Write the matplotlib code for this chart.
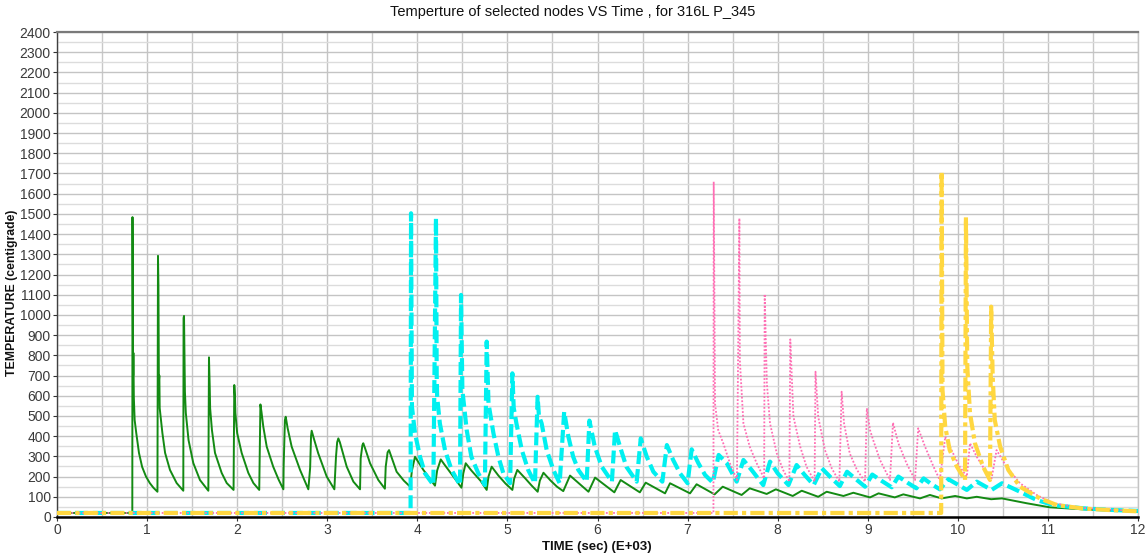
import matplotlib
matplotlib.use("Agg")
import matplotlib.pyplot as plt
from matplotlib.ticker import MultipleLocator

plt.rcParams['font.family'] = ['Liberation Sans', 'DejaVu Sans']

# Time in units of 1000 s, temperature in degrees C
green_t = [0.0, 0.836, 0.838, 0.845, 0.848, 0.853, 0.862, 0.88, 0.91, 0.945, 0.988, 1.03, 1.07, 1.115,
           1.121, 1.126, 1.131, 1.136, 1.14, 1.17, 1.2, 1.254, 1.328, 1.402,
           1.405, 1.41, 1.416, 1.42, 1.43, 1.46, 1.513, 1.587, 1.68,
           1.687, 1.695, 1.70, 1.72, 1.754, 1.828, 1.884, 1.96,
           1.968, 1.975, 1.98, 2.0, 2.05, 2.124, 2.18, 2.245,
           2.254, 2.258, 2.27, 2.29, 2.328, 2.4, 2.46, 2.513,
           2.516, 2.53, 2.539, 2.56, 2.605, 2.698, 2.79,
           2.81, 2.82, 2.827, 2.85, 2.9, 2.994, 3.079,
           3.097, 3.11, 3.123, 3.14, 3.216, 3.29, 3.364,
           3.371, 3.39, 3.4, 3.42, 3.475, 3.567, 3.64,
           3.649, 3.67, 3.686, 3.71, 3.77, 3.85, 3.92,
           3.94, 3.974, 4.0, 4.067, 4.196,
           4.22, 4.26, 4.3, 4.4, 4.49,
           4.51, 4.537, 4.6, 4.7, 4.77,
           4.79, 4.825, 4.9, 4.98, 5.055,
           5.075, 5.11, 5.2, 5.27, 5.336,
           5.36, 5.4, 5.48, 5.55, 5.62,
           5.695, 5.9, 5.973, 6.187, 6.257, 6.47, 6.535, 6.75, 6.805, 7.027,
           7.1, 7.3, 7.39, 7.6, 7.69, 7.878, 7.98, 8.167, 8.267, 8.45,
           8.544, 8.73, 8.84, 9.025, 9.12, 9.3, 9.395, 9.58, 9.69, 9.82,
           9.97, 10.1, 10.21, 10.37, 10.49, 10.765, 11.02, 11.39, 11.7, 12.0]
green_T = [20, 20, 1484, 700, 812, 590, 480, 415, 317, 248, 200, 168, 145, 125,
           1292, 1148, 670, 700, 539, 415, 317, 233, 168, 130,
           985, 995, 793, 620, 515, 381, 267, 183, 130,
           790, 650, 538, 430, 317, 218, 168, 134,
           653, 600, 515, 415, 317, 218, 168, 134,
           440, 557, 520, 447, 348, 249, 185, 137,
           250, 480, 496, 440, 348, 233, 137,
           243, 400, 427, 390, 315, 200, 137,
           298, 370, 389, 370, 249, 175, 137,
           290, 355, 365, 340, 266, 183, 140,
           249, 320, 331, 300, 224, 180, 150,
           230, 298, 280, 233, 155,
           230, 285, 260, 200, 145,
           215, 266, 230, 180, 134,
           200, 249, 205, 165, 134,
           190, 233, 190, 155, 125,
           180, 219, 180, 150, 128,
           205, 125, 195, 122, 183, 122, 170, 117, 167, 117,
           162, 112, 150, 109, 142, 114, 137, 104, 130, 100,
           125, 104, 120, 97, 117, 97, 112, 92, 109, 92,
           104, 92, 100, 88, 92, 68, 48, 38, 32, 26]

cyan_t = [0.0, 3.925, 3.93, 3.94, 3.974, 4.03, 4.085, 4.178,
          4.207, 4.215, 4.22, 4.25, 4.307, 4.38, 4.474,
          4.485, 4.5, 4.548, 4.6, 4.677, 4.75,
          4.77, 4.79, 4.845, 4.9, 4.955, 5.03,
          5.055, 5.07, 5.1, 5.16, 5.23, 5.306,
          5.335, 5.35, 5.38, 5.436, 5.51, 5.58,
          5.63, 5.677, 5.73, 5.787, 5.88,
          5.91, 5.97, 6.047, 6.16,
          6.195, 6.25, 6.32, 6.435,
          6.48, 6.547, 6.62, 6.72,
          6.77, 6.84, 6.916, 7.0,
          7.045, 7.12, 7.194, 7.28,
          7.345, 7.435, 7.545,
          7.62, 7.71, 7.84,
          7.915, 8.0, 8.12,
          8.21, 8.3, 8.4,
          8.49, 8.6, 8.69,
          8.77, 8.88, 8.97,
          9.05, 9.15, 9.266,
          9.34, 9.44, 9.54,
          9.62, 9.7, 9.8,
          9.895, 10.0, 10.1,
          10.21, 10.29, 10.375,
          10.49, 10.69, 10.875, 11.06, 11.39, 11.7, 12.0]
cyan_T = [20, 20, 1503, 546, 414, 298, 216, 158,
          1478, 700, 595, 463, 331, 233, 158,
          1099, 628, 430, 298, 216, 158,
          868, 562, 414, 298, 216, 167,
          711, 540, 463, 331, 233, 167,
          595, 500, 463, 331, 233, 167,
          521, 397, 298, 233, 175,
          477, 348, 249, 175,
          430, 348, 249, 175,
          389, 298, 224, 175,
          356, 282, 216, 167,
          335, 266, 208, 170,
          307, 266, 175,
          282, 233, 158,
          274, 216, 158,
          257, 208, 158,
          241, 191, 153,
          224, 183, 150,
          210, 180, 147,
          200, 170, 142,
          191, 165, 137,
          187, 160, 134,
          175, 155, 134,
          167, 125, 84, 59, 43, 35, 30]

pink_t = [0.0, 7.287, 7.29, 7.305, 7.34, 7.4, 7.47, 7.548,
          7.575, 7.58, 7.62, 7.69, 7.767, 7.85,
          7.856, 7.88, 7.915, 7.99, 8.06, 8.13,
          8.14, 8.175, 8.25, 8.32, 8.41,
          8.42, 8.45, 8.525, 8.6, 8.685,
          8.71, 8.737, 8.8, 8.88, 8.97,
          8.99, 9.025, 9.06, 9.136, 9.247,
          9.28, 9.34, 9.43, 9.525,
          9.56, 9.636, 9.73, 9.8,
          9.86, 9.93, 10.02, 10.1,
          10.135, 10.21, 10.3, 10.375,
          10.43, 10.54, 10.69, 10.875, 11.06, 11.39, 11.7, 12.0]
pink_T = [20, 20, 1659, 560, 430, 360, 266, 183,
          1478, 777, 463, 348, 266, 191,
          1103, 662, 463, 315, 233, 175,
          879, 496, 348, 249, 175,
          719, 496, 331, 241, 175,
          620, 463, 315, 233, 175,
          538, 430, 381, 282, 183,
          467, 365, 266, 183,
          439, 348, 249, 183,
          397, 331, 249, 200,
          365, 298, 233, 191,
          331, 249, 167, 109, 68, 45, 36, 30]

yellow_t = [0.0, 9.815, 9.82, 9.83, 9.86, 9.91, 9.99, 10.08,
            10.09, 10.105, 10.135, 10.19, 10.28, 10.357,
            10.37, 10.387, 10.41, 10.47, 10.56, 10.69, 10.91, 11.1, 11.39, 11.7, 12.0]
yellow_T = [20, 20, 1709, 628, 447, 331, 249, 183,
            1483, 744, 513, 365, 249, 183,
            1041, 694, 480, 348, 233, 150, 92, 59, 42, 34, 28]

x_ticks = list(range(0, 13))
y_ticks = list(range(0, 2401, 100))

fig = plt.figure(figsize=(11.46, 5.57), dpi=100)
ax = fig.add_axes([57 / 1146, 40 / 557, (1138 - 57) / 1146, (517 - 32) / 557])

ax.plot(green_t, green_T, color='#138a13', lw=1.4, zorder=3)
ax.plot(cyan_t, cyan_T, color='#00f0f0', lw=3.0, linestyle=(0, (3.1, 1.2)), zorder=4)
ax.plot(pink_t, pink_T, color='#ff6eb4', lw=1.3, linestyle=(0, (1, 1)), zorder=5)
ax.plot(yellow_t, yellow_T, color='#ffd740', lw=3.0, linestyle=(0, (3.4, 1.0, 1.0, 1.0)), zorder=6)

ax.set_xlim(0, 12)
ax.set_ylim(0, 2400)
ax.set_xticks(x_ticks)
ax.set_yticks(y_ticks)
ax.xaxis.set_minor_locator(MultipleLocator(0.5))
ax.yaxis.set_minor_locator(MultipleLocator(50))

ax.grid(which='major', axis='both', color='#c4c4c4', lw=1.0, zorder=0)
ax.grid(which='minor', axis='x', color='#c8c8c8', lw=1.0, zorder=0)
ax.grid(which='minor', axis='y', color='#dcdcdc', lw=1.0, zorder=0)
ax.set_axisbelow(True)

ax.tick_params(axis='both', which='major', labelsize=10, labelcolor='#3a3a3a',
               color='#333333', length=3, width=0.8, pad=1.5)
ax.tick_params(axis='both', which='minor', length=0)

ax.spines['top'].set_color('#7a7a7a')
ax.spines['top'].set_linewidth(1.6)
ax.spines['bottom'].set_color('#000000')
ax.spines['bottom'].set_linewidth(1.8)
ax.spines['left'].set_color('#404040')
ax.spines['left'].set_linewidth(1.0)
ax.spines['right'].set_color('#c4c4c4')
ax.spines['right'].set_linewidth(1.0)

fig.text(0.5, 1 - 12 / 557, 'Temperture of selected nodes VS Time , for 316L P_345',
         ha='center', va='center', fontsize=10.5, color='#111111')
fig.text(597 / 1146, 1 - 547 / 557, 'TIME (sec) (E+03)', ha='center', va='center',
         fontsize=9.5, fontweight='bold', color='#111111')
fig.text(12 / 1146, 1 - 293 / 557, 'TEMPERATURE (centigrade)', ha='center', va='center',
         rotation=90, fontsize=8.8, fontweight='bold', color='#111111')

fig.savefig('out.png', dpi=100)
